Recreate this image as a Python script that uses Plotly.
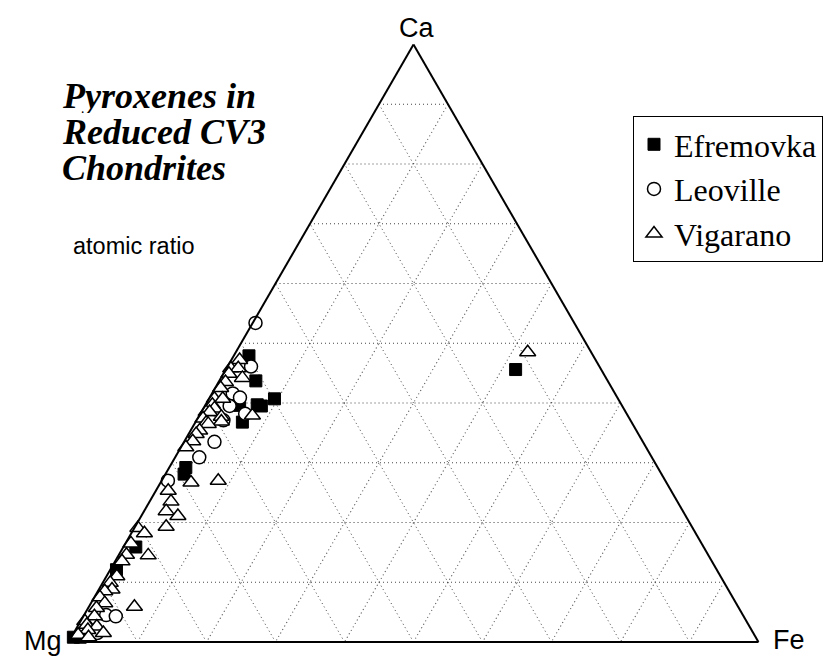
import plotly.graph_objects as go

# ---- data (atomic %, Ca + Mg + Fe = 100) ----
efremovka_ca = [47.9, 43.7, 39.7, 39.5, 40.7, 39.6, 36.8, 29.2, 28.1, 15.9, 12.1, 45.6, 0.8, 0.8]
efremovka_fe = [2.2, 5.3, 7.5, 8.2, 9.5, 5.0, 6.8, 2.4, 2.7, 1.8, 0.9, 42.0, 0.3, 1.3]
efremovka_mg = [49.9, 51.0, 52.8, 52.3, 49.8, 55.4, 56.4, 68.4, 69.2, 82.3, 87.0, 12.4, 98.9, 97.9]

leoville_ca = [53.4, 46.1, 41.6, 40.9, 39.5, 38.2, 37.1, 33.5, 30.9, 27.0, 4.5, 4.3, 1.5]
leoville_fe = [0.4, 3.4, 3.0, 4.4, 3.6, 6.5, 3.9, 4.4, 3.5, 0.9, 3.2, 4.7, 3.4]
leoville_mg = [46.2, 50.5, 55.4, 54.7, 56.9, 55.3, 59.0, 62.1, 65.6, 72.1, 92.3, 91.0, 95.1]

vigarano_ca = [47.2, 45.8, 45.8, 44.9, 44.2, 43.5, 42.5, 40.7, 40.7, 39.7, 39.1, 38.5, 38.5,
               37.7, 37.9, 37.4, 36.9, 36.7, 36.5, 35.4, 34.8, 33.6, 32.6, 27.0, 26.7, 25.3,
               23.5, 21.9, 21.1, 19.3, 19.1, 18.2, 16.5, 14.6, 14.5, 13.5, 11.0, 9.9, 8.8,
               8.5, 7.5, 6.5, 5.9, 5.7, 4.3, 3.5, 2.9, 2.6, 2.0, 1.5, 1.2, 0.8, 48.5]
vigarano_fe = [1.2, 0.6, 1.7, 0.8, 3.1, 1.0, 0.8, 0.8, 2.0, 1.0, 1.6, 0.7, 1.2,
               3.3, 7.7, 0.8, 3.7, 1.6, 2.0, 1.3, 1.1, 1.2, 0.7, 8.2, 4.4, 1.8,
               3.1, 3.2, 5.3, 4.5, 0.5, 1.9, 0.8, 1.1, 4.3, 1.0, 1.5, 1.1, 1.9,
               1.0, 0.8, 2.0, 6.6, 1.2, 1.6, 0.6, 1.2, 2.8, 1.8, 4.3, 0.8, 2.5, 42.3]
vigarano_mg = [51.6, 53.6, 52.5, 54.3, 52.7, 55.5, 56.7, 58.5, 57.3, 59.3, 59.3, 60.8, 60.3,
               59.0, 54.4, 61.8, 59.4, 61.7, 61.5, 63.3, 64.1, 65.2, 66.7, 64.8, 68.9, 72.9,
               73.4, 74.9, 73.6, 76.2, 80.4, 79.9, 82.7, 84.3, 81.2, 85.5, 87.5, 89.0, 89.3,
               90.5, 91.7, 91.5, 87.5, 93.1, 94.1, 95.9, 95.9, 94.6, 96.2, 94.2, 98.0, 96.7, 9.2]

title_lines = ["Pyroxenes in", "Reduced CV3", "Chondrites"]

W, H = 829, 661

fig = go.Figure()
fig.add_trace(go.Scatterternary(
    a=efremovka_ca, b=efremovka_mg, c=efremovka_fe, mode="markers", name="Efremovka",
    cliponaxis=False,
    marker=dict(symbol="square", size=12, color="black", line=dict(color="black", width=1))))
fig.add_trace(go.Scatterternary(
    a=leoville_ca, b=leoville_mg, c=leoville_fe, mode="markers", name="Leoville",
    cliponaxis=False,
    marker=dict(symbol="circle", size=13, color="white", line=dict(color="black", width=1.5))))
fig.add_trace(go.Scatterternary(
    a=vigarano_ca, b=vigarano_mg, c=vigarano_fe, mode="markers", name="Vigarano",
    cliponaxis=False,
    marker=dict(symbol="triangle-up", size=14, color="white", line=dict(color="black", width=1.5))))

axis_common = dict(
    showticklabels=False, ticks="", dtick=10, showgrid=True,
    gridcolor="#444444", griddash="1px,3px", gridwidth=1,
    linecolor="black", linewidth=2, showline=True, title=dict(text=""),
)

fig.update_layout(
    width=W, height=H,
    margin=dict(l=0, r=0, t=0, b=0),
    paper_bgcolor="white",
    ternary=dict(
        sum=100,
        bgcolor="white",
        domain=dict(x=[68.5 / W, 758.5 / W], y=[19 / H, (H - 44.5) / H]),
        aaxis=axis_common,
        baxis=axis_common,
        caxis=axis_common,
    ),
    showlegend=True,
    legend=dict(
        x=633 / W, y=1 - 116 / H, xanchor="left", yanchor="top",
        bgcolor="white", bordercolor="black", borderwidth=1,
        font=dict(family="Liberation Serif", size=32, color="black"),
        tracegroupgap=0,
    ),
    font=dict(family="Liberation Sans", color="black"),
)

annotations = [
    dict(text="Ca", x=416 / W, y=1 - 28 / H, font=dict(size=27, family="Liberation Sans")),
    dict(text="Mg", x=43 / W, y=1 - 641 / H, font=dict(size=27, family="Liberation Sans")),
    dict(text="Fe", x=789 / W, y=1 - 640 / H, font=dict(size=27, family="Liberation Sans")),
    dict(text="atomic ratio", x=71 / W, y=1 - 246 / H, xanchor="left",
         font=dict(size=23.5, family="Liberation Sans")),
]
for line, yc in zip(title_lines, [95.5, 131.5, 167.5]):
    annotations.append(dict(text="<b><i>" + line + "</i></b>", x=60 / W, y=1 - yc / H,
                            xanchor="left", height=35, valign="middle",
                            font=dict(size=36, family="Liberation Serif")))
for a in annotations:
    a.setdefault("xanchor", "center")
    a.setdefault("yanchor", "middle")
    a.update(xref="paper", yref="paper", showarrow=False)
fig.update_layout(annotations=annotations)

fig.write_html("out.html", config={"displayModeBar": False},
               post_script="document.body.style.margin='0px';")
